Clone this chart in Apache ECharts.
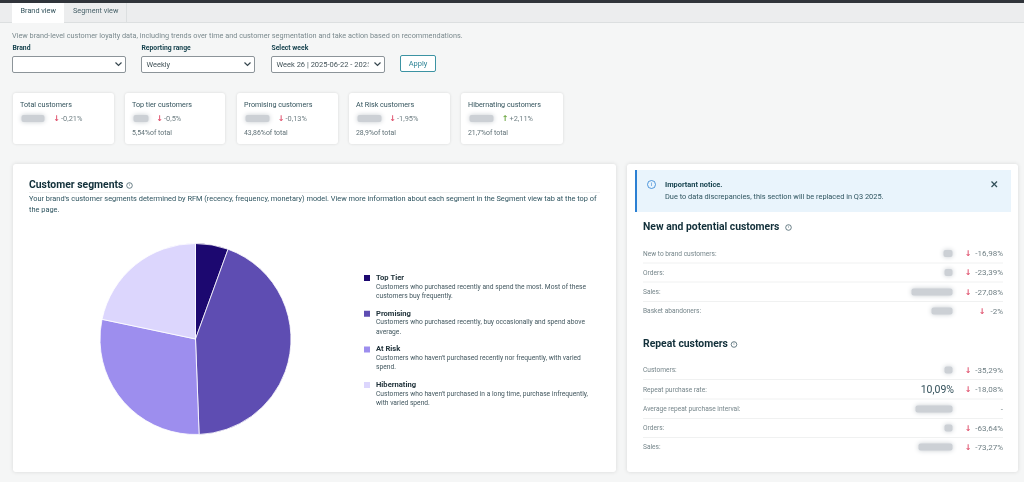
<!DOCTYPE html>
<html>
<head>
<meta charset="utf-8">
<style>
  html, body { margin: 0; padding: 0; background: #f5f6f6; }
  #diagram { width: 1024px; height: 482px; }
</style>
<script src="https://cdn.jsdelivr.net/npm/echarts@6/dist/echarts.min.js"></script>
</head>
<body>
<div id="diagram"></div>
<script>
// segment data
const segmentNames = ['Top Tier', 'Promising', 'At Risk', 'Hibernating'];
const segmentShares = [5.54, 43.86, 28.9, 21.7];
const segmentColors = ['#1c0870', '#5e4db2', '#9d8eee', '#dcd6fd'];
const segmentNotes = [
  ['Customers who purchased recently and spend the most. Most of these', 'customers buy frequently.'],
  ['Customers who purchased recently, buy occasionally and spend above', 'average.'],
  ["Customers who haven't purchased recently nor frequently, with varied", 'spend.'],
  ["Customers who haven't purchased in a long time, purchase infrequently,", 'with varied spend.']
];

// kpi cards
const kpiTitles = ['Total customers', 'Top tier customers', 'Promising customers', 'At Risk customers', 'Hibernating customers'];
const kpiDeltas = ['-0,21%', '-0,5%', '-0,13%', '-1,95%', '+2,11%'];
const kpiTotals = ['', '5,54%of total', '43,86%of total', '28,9%of total', '21,7%of total'];

// right panel rows
const newLabels = ['New to brand customers:', 'Orders:', 'Sales:', 'Basket abandoners:'];
const newDeltas = ['-16,98%', '-23,39%', '-27,08%', '-2%'];
const repeatLabels = ['Customers:', 'Repeat purchase rate:', 'Average repeat purchase interval:', 'Orders:', 'Sales:'];
const repeatDeltas = ['-35,29%', '-18,08%', '-', '-63,64%', '-73,27%'];
const repeatRate = '10,09%';

const FONT = 'Roboto, sans-serif';
const els = [];

function box(x, y, w, h, fill, opts) {
  opts = opts || {};
  els.push({
    type: 'rect', silent: true,
    shape: { x: x, y: y, width: w, height: h, r: opts.r || 0 },
    style: {
      fill: fill, stroke: opts.stroke || null, lineWidth: opts.lw || 1,
      shadowBlur: opts.blur || 0, shadowColor: opts.shadow || 'rgba(0,0,0,0.12)', shadowOffsetY: opts.offY || 0
    }
  });
}
function label(x, y, str, size, color, opts) {
  opts = opts || {};
  els.push({
    type: 'text', silent: true, x: x, y: y + 0.7,
    style: {
      text: str, fontSize: size, fill: color, fontFamily: opts.font || FONT,
      fontWeight: opts.bold ? 'bold' : 'normal',
      align: opts.align || 'left', verticalAlign: 'middle'
    }
  });
}
function line(x1, y1, x2, y2, color, lw) {
  els.push({
    type: 'line', silent: true,
    shape: { x1: x1, y1: y1, x2: x2, y2: y2 },
    style: { stroke: color, lineWidth: lw || 1 }
  });
}
function chevron(x, y) {
  els.push({
    type: 'polyline', silent: true,
    shape: { points: [[x - 3, y - 1.5], [x, y + 1.5], [x + 3, y - 1.5]] },
    style: { stroke: '#37474f', lineWidth: 1.2, fill: null }
  });
}
function infoIcon(x, y, r, color) {
  els.push({
    type: 'circle', silent: true,
    shape: { cx: x, cy: y, r: r },
    style: { stroke: color, fill: null, lineWidth: 0.8 }
  });
  label(x, y - 0.7, 'i', r * 1.4, color, { align: 'center' });
}
function smudge(x, y, w, h) {
  // blurred out values
  els.push({
    type: 'rect', silent: true,
    shape: { x: x + 1.5, y: y + 1.5, width: w - 3, height: h - 3, r: 2 },
    style: { fill: '#ccd0d5', shadowBlur: 5, shadowColor: '#c6cbd0' }
  });
}
function arrow(x, y, up) {
  label(x, y, up ? '↑' : '↓', 8, up ? '#6aa53f' : '#e0526e', { font: 'DejaVu Sans', align: 'center', bold: true });
}

// top bar and tabs
box(0, 0, 1024, 3, '#30343a');
box(0, 3, 1024, 20, '#ecedee');
line(0, 22.5, 1024, 22.5, '#dcdfe0');
line(126.5, 3, 126.5, 23, '#dcdfe0');
box(12, 3, 52, 20, '#ffffff');
label(20.5, 10, 'Brand view', 7.3, '#33535c');
label(73, 10, 'Segment view', 7.3, '#4a636b');

label(12, 35.5, 'View brand-level customer loyalty data, including trends over time and customer segmentation and take action based on recommendations.', 7.3, '#7b8a8e');

// filters
const filterLabels = ['Brand', 'Reporting range', 'Select week'];
const filterValues = ['', 'Weekly', 'Week 26 | 2025-06-22 - 2025'];
const filterX = [12.5, 141.5, 271.5];
filterLabels.forEach(function (t, i) {
  label(filterX[i], 48, t, 6.8, '#17434f', { bold: true });
  box(filterX[i], 56.5, 113, 16, '#ffffff', { stroke: '#8c9499', r: 1.5 });
  label(filterX[i] + 5, 64.5, filterValues[i], 7.5, '#44545a');
  if (i === 2) box(filterX[i] + 97, 58, 12, 13, '#ffffff');
  chevron(filterX[i] + 106, 64);
});
box(400.5, 55.5, 35, 16, '#ffffff', { stroke: '#3c93a3', r: 1.5 });
label(418, 63.5, 'Apply', 7.5, '#2f8496', { align: 'center' });

// kpi cards
const cardX = [13, 125, 237, 349, 461];
const cardW = [101, 100, 101, 101, 102];
const smudgeX = [20, 132, 244, 356, 468];
const smudgeW = [26, 18, 27, 27, 27];
const arrowX = [56.5, 159.5, 281, 392.5, 505];
kpiTitles.forEach(function (t, i) {
  box(cardX[i], 93, cardW[i], 51, '#ffffff', { r: 3, blur: 3 });
  label(cardX[i] + 7, 104.5, t, 7.2, '#33535c');
  smudge(smudgeX[i], 113.5, smudgeW[i], 10);
  arrow(arrowX[i], 118, kpiDeltas[i][0] === '+');
  label(arrowX[i] + 4.5, 118, kpiDeltas[i], 7.4, '#6f7f84');
  if (kpiTotals[i]) label(cardX[i] + 7, 133, kpiTotals[i], 6.9, '#5f7076');
});

// main cards
box(13, 164, 603, 308, '#ffffff', { r: 3, blur: 4 });
box(627, 164, 391, 308, '#ffffff', { r: 3, blur: 4 });

label(29, 185, 'Customer segments', 10.4, '#12303a', { bold: true });
infoIcon(129.5, 185.5, 2.8, '#45606a');
line(29, 192.5, 600, 192.5, '#eef0f0');
label(29, 198.5, "Your brand's customer segments determined by RFM (recency, frequency, monetary) model. View more information about each segment in the Segment view tab at the top of", 7.4, '#2f5560');
label(29, 209.5, 'the page.', 7.4, '#2f5560');

// legend notes, legend names come from the legend component
const noteTop = [286.5, 322, 357.5, 393.5];
segmentNotes.forEach(function (lines, i) {
  label(376, noteTop[i], lines[0], 6.7, '#42575f');
  label(376, noteTop[i] + 9.5, lines[1], 6.7, '#42575f');
});

// notice
box(635, 170, 376, 42, '#e9f4fc');
box(635, 170, 2, 42, '#2b80d3');
infoIcon(651.5, 184.5, 4, '#2b80d3');
label(665, 184.5, 'Important notice.', 7.4, '#17434f', { bold: true });
label(665, 196.5, 'Due to data discrepancies, this section will be replaced in Q3 2025.', 7.4, '#2f5560');
line(991.5, 181.5, 997, 187, '#33505a', 1.3);
line(997, 181.5, 991.5, 187, '#33505a', 1.3);

// new and potential
label(643, 226.5, 'New and potential customers', 10.4, '#12303a', { bold: true });
infoIcon(788.5, 227.5, 2.8, '#45606a');
const newY = [253.5, 272.5, 292, 311];
const newSmudgeX = [942, 943, 910, 930];
const newSmudgeW = [12, 11, 44, 24];
newLabels.forEach(function (t, i) {
  label(643, newY[i], t, 6.6, '#75858a');
  smudge(newSmudgeX[i], newY[i] - 5, newSmudgeW[i], 10);
  label(1003, newY[i], newDeltas[i], 8, '#6f7f84', { align: 'right' });
  arrow(i === 3 ? 982 : 968, newY[i], false);
  if (i < 3) line(643, newY[i] + 9.5, 1003, newY[i] + 9.5, '#f0f1f1');
});

// repeat customers
label(643, 343.5, 'Repeat customers', 10.4, '#12303a', { bold: true });
infoIcon(734, 344.5, 2.8, '#45606a');
const repeatY = [370, 389.5, 409, 428, 447];
const repeatSmudgeX = [943, 0, 914, 943, 917];
const repeatSmudgeW = [11, 0, 40, 11, 37];
repeatLabels.forEach(function (t, i) {
  label(643, repeatY[i], t, 6.6, '#75858a');
  if (i === 1) {
    label(954, repeatY[i], repeatRate, 10.5, '#33505a', { align: 'right' });
  } else {
    smudge(repeatSmudgeX[i], repeatY[i] - 5, repeatSmudgeW[i], 10);
  }
  label(1003, repeatY[i], repeatDeltas[i], 8, '#6f7f84', { align: 'right' });
  if (repeatDeltas[i] !== '-') arrow(968, repeatY[i], false);
  if (i < 4) line(643, repeatY[i] + 9.5, 1003, repeatY[i] + 9.5, '#f0f1f1');
});

var myChart = echarts.init(document.getElementById('diagram'));

var option = {
  animation: false,
  legend: {
    orient: 'vertical',
    left: 362,
    top: 273,
    padding: 0,
    itemWidth: 8,
    itemHeight: 8,
    itemGap: 25.7,
    icon: 'rect',
    selectedMode: false,
    data: segmentNames,
    textStyle: { fontSize: 7.6, fontWeight: 'bold', color: '#22343c', fontFamily: FONT, lineHeight: 10 }
  },
  graphic: { elements: els, z: 0 },
  series: [{
    type: 'pie',
    z: 5,
    center: [195.5, 339],
    radius: [0, 95.5],
    startAngle: 90,
    clockwise: true,
    silent: true,
    label: { show: false },
    labelLine: { show: false },
    itemStyle: { borderColor: '#ffffff', borderWidth: 0.8 },
    data: segmentNames.map(function (n, i) {
      return { name: n, value: segmentShares[i], itemStyle: { color: segmentColors[i] } };
    })
  }]
};

myChart.setOption(option);
</script>
</body>
</html>
